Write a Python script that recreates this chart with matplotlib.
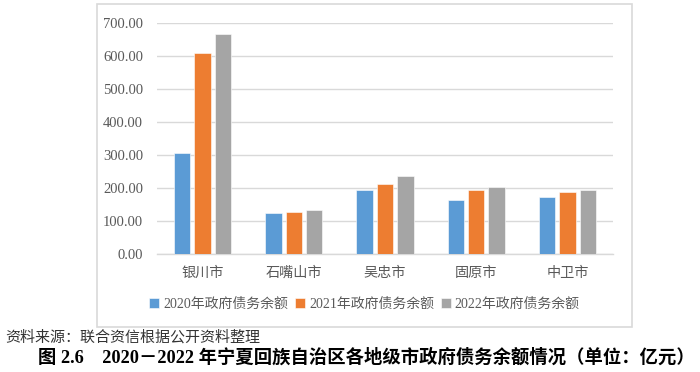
import numpy as np
import matplotlib.pyplot as plt
from matplotlib.patches import Rectangle

plt.rcParams['font.family'] = ['Liberation Serif', 'Noto Sans CJK SC']

# data
cities = ["银川市", "石嘴山市", "吴忠市", "固原市", "中卫市"]
debt_2020 = [307, 123, 194, 164, 173]
debt_2021 = [608, 127, 212, 194, 187]
debt_2022 = [666, 132, 235, 202, 194]
series_names = ["2020年政府债务余额", "2021年政府债务余额", "2022年政府债务余额"]
colors = ["#5B9BD5", "#ED7D31", "#A5A5A5"]
yticks = [0, 100, 200, 300, 400, 500, 600, 700]

fig = plt.figure(figsize=(7, 3.72), dpi=100)

# light border round the chart area
fig.patches.append(Rectangle((97 / 700, 1 - 327 / 372), 535 / 700, 323 / 372,
                             transform=fig.transFigure, fill=False,
                             edgecolor="#d9d9d9", linewidth=1.2))

ax = fig.add_axes([157 / 700, 1 - 254 / 372, 456 / 700, 231 / 372])

x = np.arange(len(cities))
w = 0.18
step = 0.223
for k, vals in enumerate([debt_2020, debt_2021, debt_2022]):
    ax.bar(x + (k - 1) * step, vals, width=w, color=colors[k],
           label=series_names[k], zorder=3, edgecolor="white", linewidth=0.4)

ax.set_xlim(-0.5, len(cities) - 0.5)
ax.set_ylim(0, 700)
ax.set_yticks(yticks)
ax.set_yticklabels(["%.2f" % v for v in yticks])
ax.set_xticks(x)
ax.set_xticklabels(cities)
ax.tick_params(axis="both", length=0, labelsize=10.5, colors="#595959")
ax.tick_params(axis="x", pad=9, labelsize=10.2)
ax.tick_params(axis="y", pad=10)
ax.grid(axis="y", color="#d9d9d9", linewidth=1.0, zorder=0)
for s in ["top", "right", "left"]:
    ax.spines[s].set_visible(False)
ax.spines["bottom"].set_color("#d9d9d9")
ax.spines["bottom"].set_linewidth(1.0)

handles, labels = ax.get_legend_handles_labels()
leg = fig.legend(handles, labels, loc="center", ncol=3,
                 bbox_to_anchor=(364.5 / 700, 1 - 304 / 372),
                 frameon=False, fontsize=10, handlelength=0.7,
                 handleheight=0.7, handletextpad=0.3, columnspacing=0.5)
for t in leg.get_texts():
    t.set_color("#595959")

fig.text(5 / 700, 1 - 337 / 372, "资料来源：联合资信根据公开资料整理",
         fontsize=10.8, color="#333333", va="center", ha="left",
         family=["Noto Sans CJK SC"])
fig.text(366 / 700, 1 - 357 / 372,
         "图 2.6    2020－2022 年宁夏回族自治区各地级市政府债务余额情况（单位：亿元）",
         fontsize=13.2, fontweight="bold", color="black", va="center", ha="center")

fig.savefig("out.png", dpi=100)
